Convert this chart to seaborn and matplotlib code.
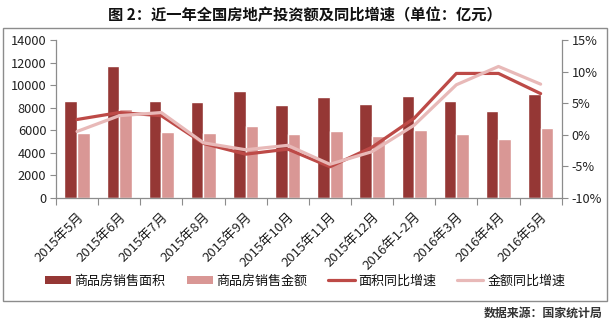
import numpy as np
import pandas as pd
import matplotlib
matplotlib.use("Agg")
import matplotlib.pyplot as plt
from matplotlib.patches import Rectangle
from matplotlib.lines import Line2D
from matplotlib.ticker import FuncFormatter, FixedLocator
import seaborn as sns

months = ["2015年5月", "2015年6月", "2015年7月", "2015年8月", "2015年9月", "2015年10月",
          "2015年11月", "2015年12月", "2016年1-2月", "2016年3月", "2016年4月", "2016年5月"]
area = [8590, 11730, 8590, 8500, 9480, 8240, 8950, 8330, 9040, 8590, 7700, 9240]
amount = [5750, 7880, 5840, 5750, 6370, 5660, 5930, 5480, 6010, 5660, 5210, 6190]
area_growth = [2.4, 3.5, 3.0, -1.4, -3.1, -2.3, -5.1, -2.0, 2.6, 9.7, 9.7, 6.5]
amount_growth = [0.5, 3.0, 3.5, -1.3, -2.4, -1.7, -4.7, -2.7, 1.5, 7.9, 10.8, 8.0]
bar_names = ["商品房销售面积", "商品房销售金额"]
line_names = ["面积同比增速", "金额同比增速"]

c_bar1 = "#953735"
c_bar2 = "#D99795"
c_line1 = "#BD4A47"
c_line2 = "#E8B9B8"
axis_c = "#8C8C8C"
txt_c = "#222222"

sns.set_theme(style="white")
plt.rcParams["font.family"] = ["Noto Sans CJK SC", "DejaVu Sans"]

bars = pd.DataFrame({
    "月份": months * 2,
    "指标": [bar_names[0]] * len(months) + [bar_names[1]] * len(months),
    "数值": area + amount,
})
lines = pd.DataFrame({
    "x": list(range(len(months))) * 2,
    "指标": [line_names[0]] * len(months) + [line_names[1]] * len(months),
    "增速": area_growth + amount_growth,
})

W, H = 610, 325
fig = plt.figure(figsize=(W / 100, H / 100), dpi=100)
ax = fig.add_axes([56 / W, 1 - 197.7 / H, (561.7 - 56) / W, (197.7 - 40) / H])

sns.barplot(data=bars, x="月份", y="数值", hue="指标", order=months,
            hue_order=bar_names, palette=[c_bar1, c_bar2], width=0.6,
            saturation=1, ax=ax, legend=False)

ax2 = ax.twinx()
sns.lineplot(data=lines, x="x", y="增速", hue="指标", hue_order=line_names,
             palette=[c_line1, c_line2], linewidth=2.3, ax=ax2, legend=False,
             sort=True)

ax.set_xlim(-0.5, len(months) - 0.5)
ax2.set_xlim(-0.5, len(months) - 0.5)
ax.set_ylim(0, 14000)
ax.set_yticks(np.arange(0, 14001, 2000))
ax2.set_ylim(-10, 15)
ax2.set_yticks(np.arange(-10, 16, 5))
ax2.yaxis.set_major_formatter(FuncFormatter(lambda v, p: f"{v:.0f}%"))

ax.set_xlabel("")
ax.set_ylabel("")
ax2.set_ylabel("")
ax2.set_xlabel("")

ax.set_xticks(range(len(months)))
ax.set_xticklabels(months, rotation=45, ha="right", rotation_mode="anchor",
                   fontsize=9.5, color=txt_c)
ax.xaxis.set_minor_locator(FixedLocator(np.arange(-0.5, len(months), 1.0)))
ax.tick_params(axis="x", which="major", length=0, pad=9)
ax.tick_params(axis="x", which="minor", length=5, width=0.8, color=axis_c, direction="out", bottom=True)
ax.tick_params(axis="y", length=4, width=0.8, color=axis_c, direction="out", left=True,
               labelsize=9.2, labelcolor=txt_c, pad=3)
ax2.tick_params(axis="y", length=4, width=0.8, color=axis_c, direction="out", right=True,
                labelsize=9.2, labelcolor=txt_c, pad=3)

for a in (ax, ax2):
    for s in a.spines.values():
        s.set_visible(False)
ax.spines["left"].set_visible(True)
ax.spines["bottom"].set_visible(True)
ax2.spines["right"].set_visible(True)
for s in (ax.spines["left"], ax.spines["bottom"], ax2.spines["right"]):
    s.set_color(axis_c)
    s.set_linewidth(0.9)
ax.grid(False)
ax2.grid(False)

# outer frame
fig.patches.append(Rectangle((3 / W, 1 - 301 / H), 604 / W, 273 / H, transform=fig.transFigure,
                             fill=False, edgecolor="#8C8C8C", linewidth=1))

fig.text(0.5, 1 - 15 / H, "图 2：近一年全国房地产投资额及同比增速（单位：亿元）",
         ha="center", va="center", fontsize=11, fontweight="bold", color="#111111")

handles = [
    Rectangle((0, 0), 1, 1, facecolor=c_bar1, edgecolor="none"),
    Rectangle((0, 0), 1, 1, facecolor=c_bar2, edgecolor="none"),
    Line2D([0], [0], color=c_line1, linewidth=2.3),
    Line2D([0], [0], color=c_line2, linewidth=2.3),
]
fig.legend(handles, bar_names + line_names, loc="center", bbox_to_anchor=(0.5, 1 - 281 / H),
           ncol=4, frameon=False, fontsize=9.4, handlelength=2.0, handleheight=0.6,
           handletextpad=0.3, columnspacing=1.6, labelcolor="#111111")

fig.text(602 / W, 1 - 313 / H, "数据来源：国家统计局", ha="right", va="center",
         fontsize=8.6, color="#333333", fontweight="bold")

fig.savefig("out.png", dpi=100)
